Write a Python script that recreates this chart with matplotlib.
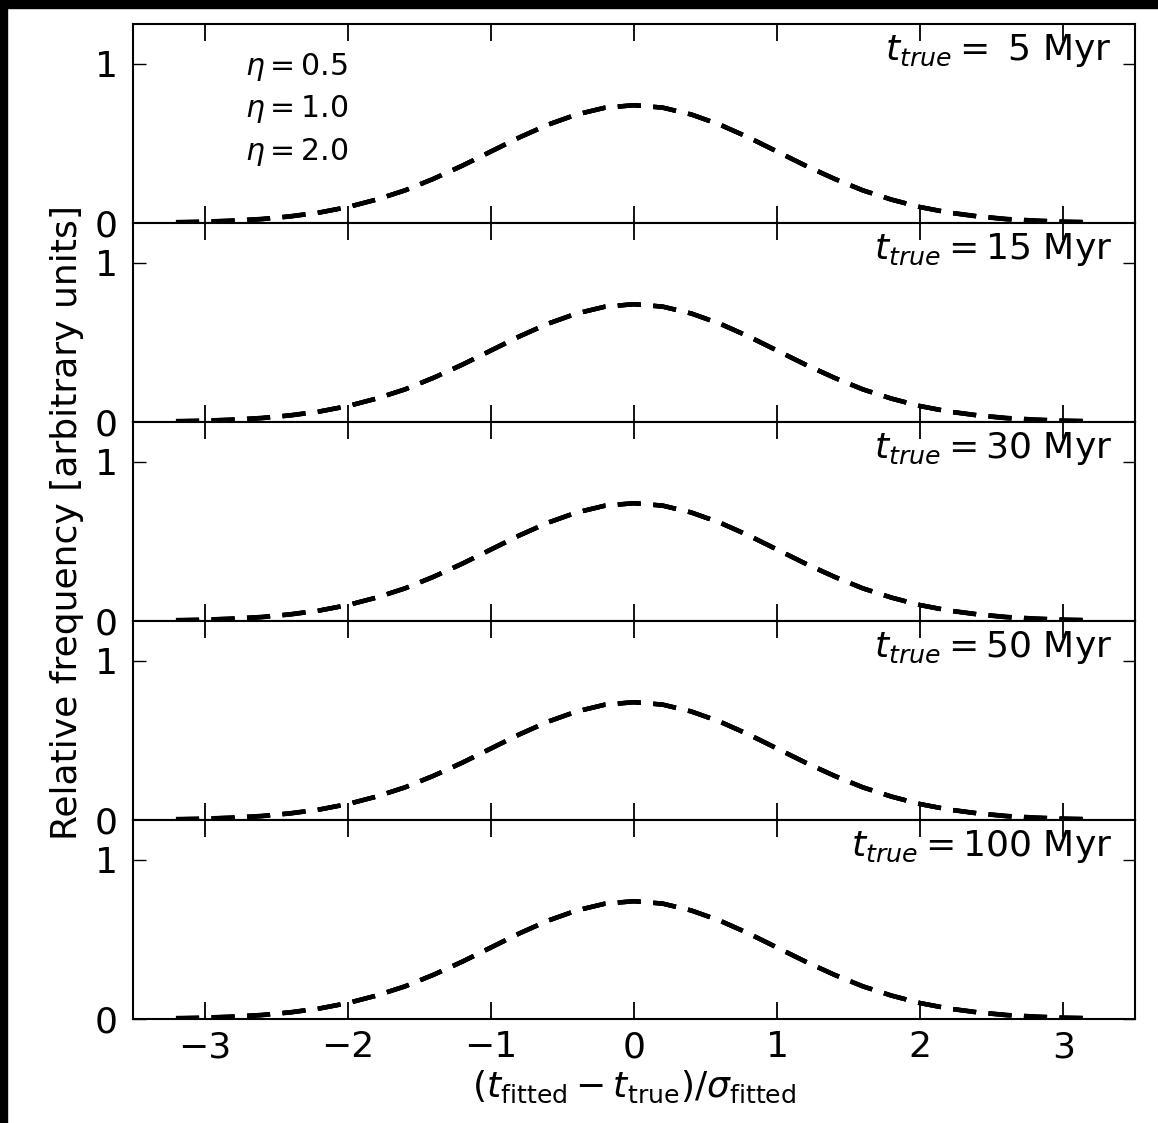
import matplotlib
matplotlib.use('Agg')
import matplotlib.pyplot as plt
from matplotlib.patches import Rectangle

# values (same shape in every panel)
x = [-3.2, -3.0, -2.8, -2.6, -2.4, -2.2, -2.0, -1.8, -1.6, -1.4, -1.2, -1.0, -0.8, -0.6, -0.4, -0.2,
     0.0, 0.2, 0.4, 0.6, 0.8, 1.0, 1.2, 1.4, 1.6, 1.8, 2.0, 2.2, 2.4, 2.6, 2.8, 3.0, 3.2]
freq_05 = [0.006, 0.009, 0.016, 0.026, 0.043, 0.066, 0.100, 0.147, 0.205, 0.278, 0.360, 0.449, 0.538,
           0.618, 0.682, 0.725, 0.740, 0.725, 0.682, 0.618, 0.538, 0.449, 0.360, 0.278, 0.205, 0.147,
           0.100, 0.066, 0.043, 0.026, 0.016, 0.009, 0.006]
freq_10 = [0.004, 0.008, 0.015, 0.025, 0.042, 0.066, 0.100, 0.147, 0.205, 0.278, 0.360, 0.449, 0.538,
           0.618, 0.682, 0.725, 0.740, 0.725, 0.682, 0.618, 0.538, 0.449, 0.360, 0.278, 0.205, 0.147,
           0.100, 0.066, 0.042, 0.025, 0.015, 0.008, 0.004]
freq_20 = [0.002, 0.006, 0.013, 0.024, 0.041, 0.065, 0.100, 0.147, 0.205, 0.278, 0.360, 0.449, 0.538,
           0.618, 0.682, 0.725, 0.740, 0.725, 0.682, 0.618, 0.538, 0.449, 0.360, 0.278, 0.205, 0.147,
           0.100, 0.065, 0.041, 0.024, 0.013, 0.006, 0.002]
etas = ['0.5', '1.0', '2.0']
t_true = [' 5', '15', '30', '50', '100']
xticks = [-3, -2, -1, 0, 1, 2, 3]

fig, axes = plt.subplots(5, 1, sharex=True, figsize=(11.58, 11.23), dpi=100)
fig.subplots_adjust(left=0.1149, right=0.980, top=0.9786, bottom=0.0926, hspace=0)

for i, ax in enumerate(axes):
    for eta, f in zip(etas, [freq_05, freq_10, freq_20]):
        ax.plot(x, f, color='black', lw=3.2, dashes=(5.2, 2.8), label=r'$\eta = %s$' % eta)
    ax.set_xlim(-3.5, 3.5)
    ax.set_ylim(0, 1.25)
    ax.set_yticks([0, 1])
    ax.set_xticks(xticks)
    ax.tick_params(axis='both', direction='in', top=True, right=True, labelsize=26)
    ax.tick_params(axis='x', length=12, width=1.3, pad=8)
    ax.tick_params(axis='y', length=9, width=1, pad=11)
    for s in ax.spines.values():
        s.set_linewidth(1.5)
    ax.text(0.977, 0.865, r'$t_{true} = $%s Myr' % t_true[i], transform=ax.transAxes,
            ha='right', va='center', fontsize=26)

leg = axes[0].legend(loc='upper left', bbox_to_anchor=(0.085, 1.0), frameon=False,
                     handlelength=0, handletextpad=0, fontsize=21.5, labelspacing=0.35)

axes[-1].set_xticklabels(['\u22123', '\u22122', '\u22121', '0', '1', '2', '3'])
axes[-1].set_xlabel(r'$(t_{\rm fitted} - t_{\rm true})/\sigma_{\rm fitted}$', fontsize=26, labelpad=3)
fig.text(0.058, 0.535, 'Relative frequency [arbitrary units]', rotation=90,
         ha='center', va='center', fontsize=26)

# black frame on top and left of the picture
fig.patches.append(Rectangle((0, 0.993), 1, 0.007, transform=fig.transFigure, color='black'))
fig.patches.append(Rectangle((0, 0), 0.006, 1, transform=fig.transFigure, color='black'))

fig.savefig('out.png', dpi=100)
